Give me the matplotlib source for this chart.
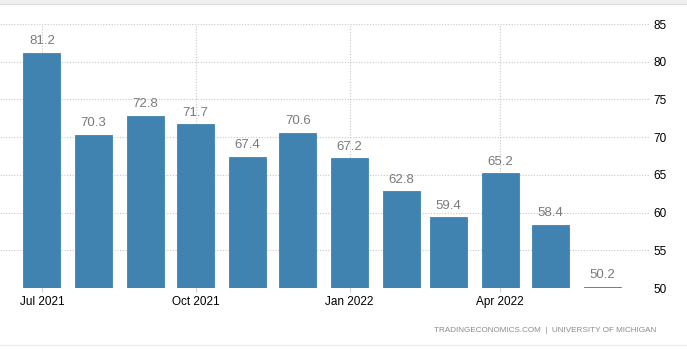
import matplotlib.pyplot as plt
import matplotlib.dates as mdates
from matplotlib.lines import Line2D
from matplotlib.patches import Rectangle
import datetime as dt

# Consumer sentiment, University of Michigan
meses = ["2021-07", "2021-08", "2021-09", "2021-10", "2021-11", "2021-12",
         "2022-01", "2022-02", "2022-03", "2022-04", "2022-05", "2022-06"]
valores = [81.2, 70.3, 72.8, 71.7, 67.4, 70.6, 67.2, 62.8, 59.4, 65.2, 58.4, 50.2]
ticks_x = ["2021-07", "2021-10", "2022-01", "2022-04"]
etiquetas_x = ["Jul 2021", "Oct 2021", "Jan 2022", "Apr 2022"]
ticks_y = [50, 55, 60, 65, 70, 75, 80, 85]

def fecha(s):
    a, m = s.split("-")
    return dt.date(int(a), int(m), 1)

fechas = [fecha(m) for m in meses]

plt.rcParams['font.family'] = ['Liberation Sans', 'DejaVu Sans']

fig = plt.figure(figsize=(6.87, 3.54), dpi=100)
ax = fig.add_axes([0.0, 0.1864, 649 / 687, 0.7458])

azul = '#4083b1'
ax.bar(fechas, valores, width=22.2, color=azul, edgecolor=azul, linewidth=0.6,
       zorder=2)

for f, v in zip(fechas, valores):
    ax.annotate(f"{v:.1f}", (mdates.date2num(f), v), xytext=(0, 4),
                textcoords='offset points', ha='center', va='bottom',
                fontsize=9.5, color='#7a7a7a', zorder=3)

ax.set_ylim(50, 85)
ax.set_xlim(dt.date(2021, 6, 6), dt.date(2022, 6, 29))
ax.set_yticks(ticks_y)
ax.set_xticks([fecha(t) for t in ticks_x])
ax.set_xticklabels(etiquetas_x)

ax.yaxis.tick_right()
ax.tick_params(axis='y', length=0, pad=3, labelsize=8.5, labelcolor='#000000')
ax.tick_params(axis='x', length=3, color='#cccccc', pad=3, labelsize=8.5,
               labelcolor='#000000')

ax.grid(True, linestyle=(0, (1, 1.5)), color='#c8c8c8', linewidth=0.8, zorder=0)
ax.set_axisbelow(True)
for s in ax.spines.values():
    s.set_visible(False)

# bordes grises arriba y abajo
fig.add_artist(Rectangle((0, 1 - 4 / 354), 1, 4 / 354, transform=fig.transFigure,
                         color='#f0f0f0', zorder=0))
fig.add_artist(Line2D([0, 1], [1 - 4 / 354, 1 - 4 / 354], transform=fig.transFigure,
                      color='#dddddd', linewidth=0.8))
fig.add_artist(Line2D([0, 1], [1 - 345 / 354, 1 - 345 / 354], transform=fig.transFigure,
                      color='#eeeeee', linewidth=1))

fig.text(656 / 687, 1 - 330 / 354, "TRADINGECONOMICS.COM  |  UNIVERSITY OF MICHIGAN",
         ha='right', va='center', fontsize=5.9, color='#8a8a8a')

fig.savefig("out.png", dpi=100)
